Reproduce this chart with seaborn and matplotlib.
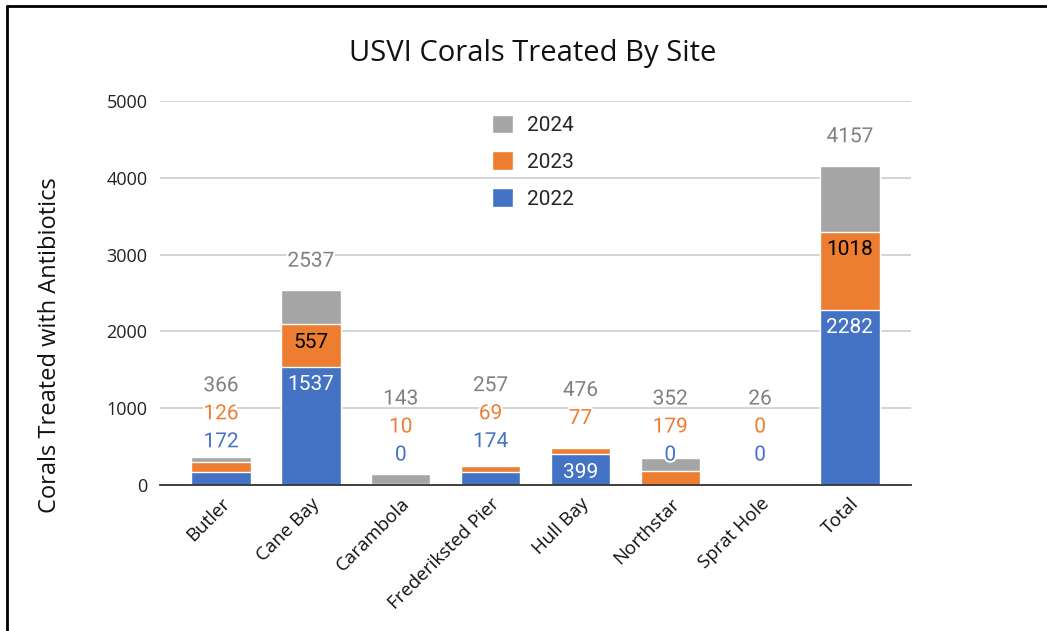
import numpy as np
import pandas as pd
import seaborn as sns
import matplotlib.pyplot as plt
from matplotlib.patches import Patch
from matplotlib.lines import Line2D
import matplotlib.patheffects as pe

# data
sites = ["Butler", "Cane Bay", "Carambola", "Frederiksted Pier",
         "Hull Bay", "Northstar", "Sprat Hole", "Total"]
y2022 = [172, 1537, 0, 174, 399, 0, 0, 2282]
y2023 = [126, 557, 10, 69, 77, 179, 0, 1018]
totals = [366, 2537, 143, 257, 476, 352, 26, 4157]   # label shown on the grey 2024 segment

BLUE = "#4472C4"
ORANGE = "#ED7D31"
GREY = "#A5A5A5"

df = pd.DataFrame({"site": sites, "y2022": y2022, "y2023": y2023, "total": totals})
df["cum2023"] = df["y2022"] + df["y2023"]

sns.set_style("white")
plt.rcParams["font.family"] = ["Open Sans", "DejaVu Sans"]

fig = plt.figure(figsize=(10.47, 6.31), dpi=100)
ax = fig.add_axes([0.1528, 0.2314, 0.7173, 0.6086])

# stacked bars drawn back to front with cumulative heights
for col, color in [("total", GREY), ("cum2023", ORANGE), ("y2022", BLUE)]:
    sns.barplot(data=df, x="site", y=col, order=sites, color=color,
                width=0.66, saturation=1, ax=ax, zorder=2)

ax.set_ylim(0, 5000)
ax.set_xlim(-0.68, len(sites) - 1 + 0.68)
ax.set_yticks([0, 1000, 2000, 3000, 4000, 5000])
ax.yaxis.grid(True, color="#CCCCCC", linewidth=1.2, zorder=0)
ax.set_axisbelow(True)
for s in ["top", "right", "left"]:
    ax.spines[s].set_visible(False)
ax.spines["bottom"].set_color("#333333")
ax.spines["bottom"].set_linewidth(1.3)
ax.spines["bottom"].set_zorder(3)
ax.tick_params(axis="y", length=0, pad=9, labelsize=13, labelcolor="#222222")
ax.tick_params(axis="x", length=0, pad=7, labelsize=13.5, labelcolor="#111111")
plt.setp(ax.get_xticklabels(), rotation=45, ha="right", rotation_mode="anchor")
ax.set_xlabel("")
ax.set_ylabel("Corals Treated with Antibiotics", fontsize=17, color="#111111")
ax.yaxis.set_label_coords(-0.1305, 0.365)

fig.suptitle("USVI Corals Treated By Site", x=0.509, y=1 - 54 / 631,
             va="center", fontsize=21, color="#111111")

# value labels: inside end for tall blue/orange segments, otherwise
# 30 px above the segment top, pushed up to keep 28 px between labels
halo = [pe.withStroke(linewidth=3, foreground="white")]
lab_font = ["Roboto", "DejaVu Sans"]
px = 384 / 5000  # pixels per unit
for i in range(len(sites)):
    segs = [(y2022[i], y2022[i], BLUE, "white"),
            (y2023[i], y2022[i] + y2023[i], ORANGE, "black")]
    prev = None
    for val, top, color, inner in segs:
        if val >= 300:
            ax.annotate(str(val), (i, top), xytext=(0, -18),
                        textcoords="offset pixels", ha="center", va="center",
                        fontsize=15, color=inner, family=lab_font, zorder=5)
            continue
        pos = top * px + 30
        if prev is not None:
            pos = max(pos, prev + 28)
        prev = pos
        ax.annotate(str(val), (i, 0), xytext=(0, pos),
                    textcoords="offset pixels", ha="center", va="center",
                    fontsize=15, color=color, family=lab_font, zorder=5,
                    path_effects=halo)
    pos = totals[i] * px + 29
    if prev is not None:
        pos = max(pos, prev + 28)
    ax.annotate(str(totals[i]), (i, 0), xytext=(0, pos),
                textcoords="offset pixels", ha="center", va="center",
                fontsize=15, color="#808080", family=lab_font, zorder=5,
                path_effects=halo)

handles = [Patch(facecolor=GREY, label="2024"),
           Patch(facecolor=ORANGE, label="2023"),
           Patch(facecolor=BLUE, label="2022")]
fig.legend(handles=handles, loc="upper left", bbox_to_anchor=(473 / 1047, 1 - 96 / 631),
           frameon=False, handlelength=1.0, handleheight=1.0,
           handletextpad=0.7, labelspacing=0.78, prop={"family": lab_font, "size": 15})

# thin frame lines along top and left edge of the screenshot
fig.add_artist(Line2D([7 / 1047, 7 / 1047], [0, 1 - 6 / 631], color="black", linewidth=2))
fig.add_artist(Line2D([7 / 1047, 1], [1 - 6 / 631, 1 - 6 / 631], color="black", linewidth=2))

fig.savefig("out.png", dpi=100, facecolor="white")
